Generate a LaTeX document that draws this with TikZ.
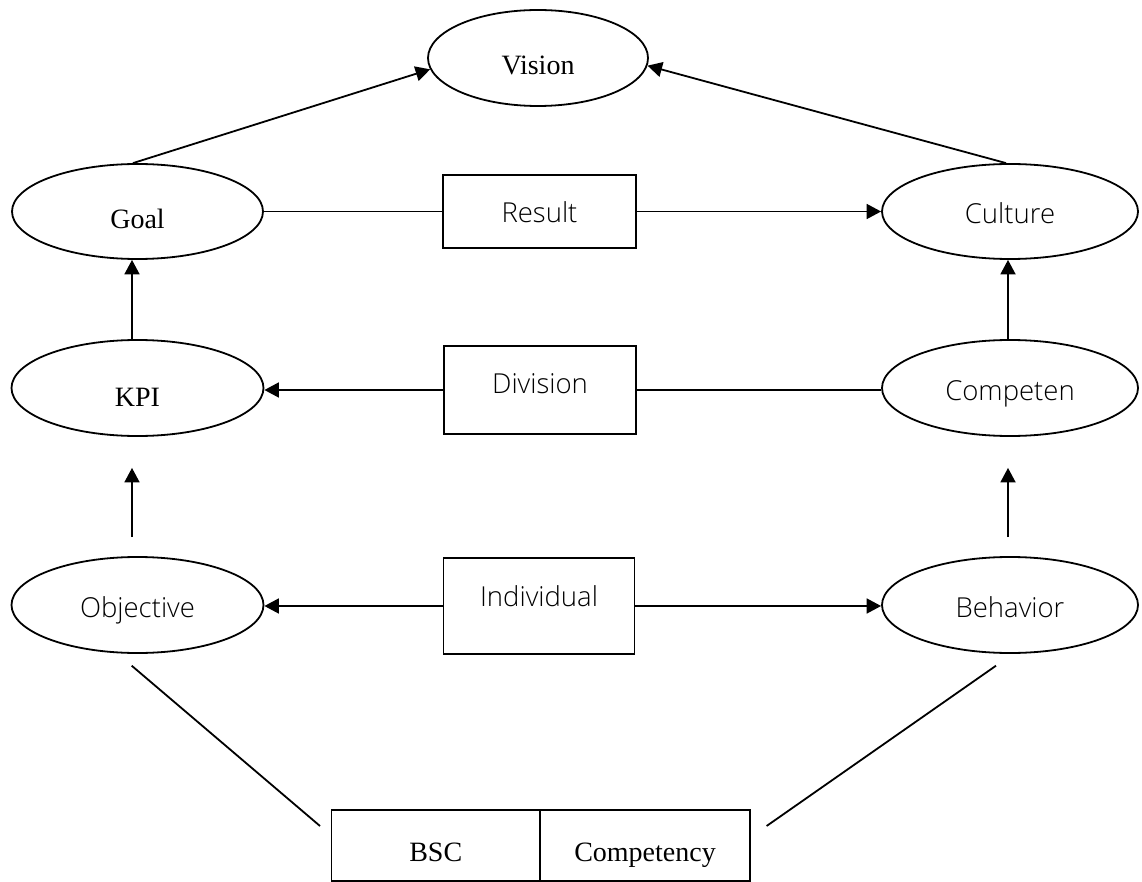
\documentclass[tikz,border=0pt]{standalone}
\usepackage{fontspec}
\setmainfont{Liberation Serif}
\newfontfamily\sansf{Open Sans Light}
\usetikzlibrary{shapes.geometric,arrows.meta}
\begin{document}
\begin{tikzpicture}[x=1pt,y=-1pt, line width=1.8pt,
  ell/.style={draw, ellipse, inner sep=0pt, minimum width=252pt, minimum height=96pt},
  rbox/.style={draw, rectangle, inner sep=0pt, minimum width=192pt},
  serif/.style={font=\fontsize{28}{30}\selectfont},
  sans/.style={font=\sansf\fontsize{27.5}{30}\selectfont},
  bl/.style={text height=#1, text depth=0pt},
  arr/.style={-{Triangle[length=14.5pt,width=15pt]}}]
\fill[white] (0,0) rectangle (1142,882);
\useasboundingbox (0,0) rectangle (1142,882);
% top row
\node[ell, serif, bl=34pt, minimum width=220pt] (vision) at (538,58) {Vision};
\node[ell, serif, bl=34pt, minimum width=251pt, minimum height=95pt] (goal) at (137.5,211.5) {Goal};
\node[rbox, sans, bl=22pt, minimum width=193pt, minimum height=73pt] (result) at (539.5,211.5) {Result};
\node[ell, sans, bl=25pt, minimum width=256pt, minimum height=95pt] (culture) at (1010,211.5) {Culture};
% middle row
\node[ell, serif, bl=36pt] (kpi) at (137.5,388) {KPI};
\node[rbox, sans, bl=6.6pt, minimum height=88pt] (division) at (540,390) {Division};
\node[ell, sans, bl=25.4pt, minimum width=256pt] (competen) at (1010,388) {Competen};
% lower row
\node[ell, sans, bl=24.6pt] (objective) at (137.5,605) {Objective};
\node[rbox, sans, bl=0pt, minimum width=191pt, minimum height=96pt] (individual) at (539,606) {Individual};
\node[ell, sans, bl=24.6pt, minimum width=256pt] (behavior) at (1010,605) {Behavior};
% bottom box
\node[draw, rectangle, inner sep=0pt, serif, bl=32.4pt, minimum width=208.5pt, minimum height=71pt] (bsc) at (435.75,845.5) {BSC};
\node[draw, rectangle, inner sep=0pt, serif, bl=32.4pt, minimum width=210pt, minimum height=71pt] (comp) at (645,845.5) {Competency};
% connectors
\draw[arr] ([xshift=-4.5pt]goal.north) -- (vision.186);
\draw[arr] ([xshift=-4pt]culture.north) -- (vision.356);
\draw (goal.east) -- (result.west);
\draw[arr] (result.east) -- (culture.west);
\draw[arr] ([xshift=-5.5pt]kpi.north) -- ([xshift=-5.5pt]goal.south);
\draw[arr] ([xshift=-2pt]competen.north) -- ([xshift=-2pt]culture.south);
\draw[arr] (division.west) -- (division.west -| kpi.east);
\draw (division.east) -- (division.east -| competen.west);
\draw[arr] (individual.west) -- (individual.west -| objective.east);
\draw[arr] (individual.east) -- (individual.east -| behavior.west);
\draw[arr, shorten <=19pt, shorten >=31pt] ([xshift=-5.5pt]objective.north) -- ([xshift=-5.5pt]kpi.south);
\draw[arr, shorten <=19pt, shorten >=31pt] ([xshift=-2pt]behavior.north) -- ([xshift=-2pt]competen.south);
\coordinate (dl1) at (131.7,665.7);
\coordinate (dl2) at (320,826);
\coordinate (dr1) at (996,665.7);
\coordinate (dr2) at (766.6,826);
\draw (dl1) -- (dl2);
\draw (dr1) -- (dr2);
\end{tikzpicture}
\end{document}
